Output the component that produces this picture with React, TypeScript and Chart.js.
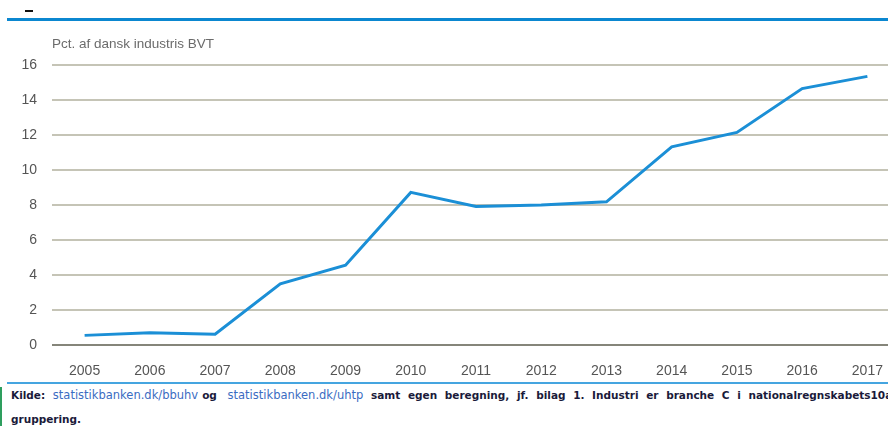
import React, { useEffect, useRef } from "react";
import { Chart, registerables } from "chart.js";

Chart.register(...registerables);

const years = ["2005", "2006", "2007", "2008", "2009", "2010", "2011", "2012", "2013", "2014", "2015", "2016", "2017"];
const shareValues = [0.55, 0.7, 0.62, 3.5, 4.56, 8.72, 7.92, 8.0, 8.18, 11.32, 12.15, 14.65, 15.35];
const yTicks = [0, 2, 4, 6, 8, 10, 12, 14, 16];
const axisTitle = "Pct. af dansk industris BVT";

const tickFont = { family: "'Liberation Sans Narrow', 'Arial Narrow', 'Liberation Sans', Arial, sans-serif", size: 14 };

export default function App() {
  const ref = useRef<HTMLCanvasElement | null>(null);

  useEffect(() => {
    if (!ref.current) return;
    const chart = new Chart(ref.current, {
      type: "line",
      data: {
        labels: years,
        datasets: [
          {
            data: shareValues,
            borderColor: "#1b8fd6",
            borderWidth: 3,
            pointRadius: 0,
            tension: 0,
            fill: false,
          },
        ],
      },
      options: {
        animation: false,
        responsive: false,
        devicePixelRatio: 1,
        layout: { padding: { top: 65, right: 0, left: 0, bottom: 0 } },
        plugins: { legend: { display: false }, tooltip: { enabled: false }, title: { display: false } },
        scales: {
          x: {
            type: "category",
            offset: true,
            grid: { display: false },
            border: { display: false },
            ticks: { color: "#555555", font: tickFont, padding: 10, maxRotation: 0, autoSkip: false },
            afterFit: (s: any) => {
              s.height = 35;
            },
          },
          y: {
            min: 0,
            max: 16,
            afterBuildTicks: (s: any) => {
              s.ticks = yTicks.map((v) => ({ value: v }));
            },
            grid: {
              drawTicks: false,
              lineWidth: 2,
              color: (ctx: any) => (ctx.tick && ctx.tick.value === 0 ? "#85857a" : "#c5c4b6"),
            },
            border: { display: false },
            ticks: { color: "#555555", font: tickFont, padding: 15 },
            afterFit: (s: any) => {
              s.width = 52;
            },
          },
        },
      },
    });
    return () => chart.destroy();
  }, []);

  const boldFont = "'DejaVu Sans', Verdana, sans-serif";
  const linkStyle: React.CSSProperties = { color: "#3b6cc2", fontWeight: "normal", fontSize: 11.5, wordSpacing: 0 };

  return (
    <div style={{ position: "fixed", left: 0, top: 0, width: 888, height: 426, overflow: "hidden", background: "#fff" }}>
      <div style={{ position: "absolute", left: 25, top: 10, width: 8, height: 2, background: "#111" }} />
      <div style={{ position: "absolute", left: 7, top: 18, width: 900, height: 3, background: "#0b87d0" }} />
      <canvas ref={ref} width={900} height={380} style={{ position: "absolute", left: 0, top: 0, width: 900, height: 380 }} />
      <div
        style={{
          position: "absolute",
          left: 52,
          top: 36,
          fontFamily: "'Liberation Sans', Arial, sans-serif",
          fontSize: 13.5,
          color: "#6b6b6b",
          whiteSpace: "nowrap",
        }}
      >
        {axisTitle}
      </div>
      <div style={{ position: "absolute", left: 7, top: 382, width: 900, height: 2, background: "#45a5e0" }} />
      <div style={{ position: "absolute", left: 0, top: 387, width: 2, height: 40, background: "#2e9e5e" }} />
      <div
        style={{
          position: "absolute",
          left: 11,
          top: 388,
          fontFamily: boldFont,
          fontWeight: "bold",
          fontSize: 10.5,
          color: "#1a1a3a",
          whiteSpace: "nowrap",
          wordSpacing: 4,
          lineHeight: "14px",
        }}
      >
        Kilde: <span style={linkStyle}>statistikbanken.dk/bbuhv</span>
        <span style={{ marginLeft: 4 }}>og</span>{" "}
        <span style={{ ...linkStyle, marginLeft: 3 }}>statistikbanken.dk/uhtp</span> samt egen beregning, jf. bilag 1.
        Industri er branche C i nationalregnskabets10a-
      </div>
      <div
        style={{
          position: "absolute",
          left: 11,
          top: 412,
          fontFamily: boldFont,
          fontWeight: "bold",
          fontSize: 10.5,
          color: "#1a1a3a",
          whiteSpace: "nowrap",
          lineHeight: "14px",
        }}
      >
        gruppering.
      </div>
    </div>
  );
}
